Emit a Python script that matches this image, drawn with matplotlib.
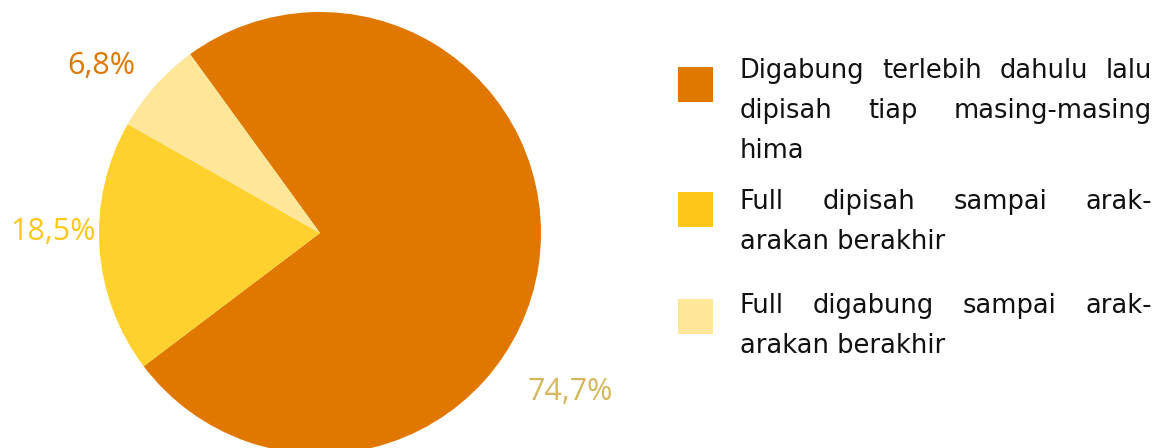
import matplotlib
matplotlib.use("Agg")
import matplotlib.pyplot as plt
from matplotlib.patches import Rectangle

# ---- data ----
categories = [
    "Digabung terlebih dahulu lalu dipisah tiap masing-masing hima",
    "Full dipisah sampai arak-arakan berakhir",
    "Full digabung sampai arak-arakan berakhir",
]
values = [74.7, 18.5, 6.8]
value_labels = ["74,7%", "18,5%", "6,8%"]
legend_lines = [
    ["Digabung terlebih dahulu lalu", "dipisah tiap masing-masing", "hima"],
    ["Full dipisah sampai arak-", "arakan berakhir"],
    ["Full digabung sampai arak-", "arakan berakhir"],
]

# ---- style ----
pie_colors = ["#E07800", "#FED12F", "#FFE699"]
legend_colors = ["#E07800", "#FFC61A", "#FFE699"]
label_colors = ["#D6B75E", "#FFC61A", "#E07800"]
FONT = "Open Sans"
LEG_FONT = "DejaVu Sans"

W, H = 1167, 448
fig = plt.figure(figsize=(W / 100, H / 100), dpi=100)
ax = fig.add_axes([0, 0, 1, 1])

def Y(py):
    return H - py

cx, cy, r = 320, 233, 221
ax.pie(values, colors=pie_colors, startangle=126, counterclock=False,
       center=(cx, Y(cy)), radius=r, frame=True,
       wedgeprops=dict(linewidth=0))
ax.set_xlim(0, W)
ax.set_ylim(0, H)
ax.set_aspect("auto")
ax.axis("off")

# percentage labels
label_pos = [(570, 392), (53, 232), (101, 66)]
for (px, py), txt, col in zip(label_pos, value_labels, label_colors):
    ax.text(px, Y(py), txt, ha="center", va="center", fontsize=22,
            color=col, family=FONT)

# legend with justified text
renderer = fig.canvas.get_renderer()
text_left, text_right = 740, 1152
squares_top = [67, 192, 299]
first_baselines = [78, 209, 313]
line_gap = 40
sq = 35
fs = 18.5

def word_width(w):
    t = ax.text(0, 0, w, fontsize=fs, family=LEG_FONT)
    bb = t.get_window_extent(renderer=renderer)
    t.remove()
    return bb.width

for i, lines in enumerate(legend_lines):
    ax.add_patch(Rectangle((678, Y(squares_top[i] + sq)), sq, sq,
                           facecolor=legend_colors[i], edgecolor="none"))
    for j, line in enumerate(lines):
        base = Y(first_baselines[i] + j * line_gap)
        words = line.split(" ")
        if j == len(lines) - 1 or len(words) == 1:
            ax.text(text_left, base, line, fontsize=fs, family=LEG_FONT,
                    color="#111111", ha="left", va="baseline")
            continue
        widths = [word_width(w) for w in words]
        gap = (text_right - text_left - sum(widths)) / (len(words) - 1)
        x = text_left
        for w, wd in zip(words, widths):
            ax.text(x, base, w, fontsize=fs, family=LEG_FONT, color="#111111",
                    ha="left", va="baseline")
            x += wd + gap

fig.savefig("out.png", dpi=100)
